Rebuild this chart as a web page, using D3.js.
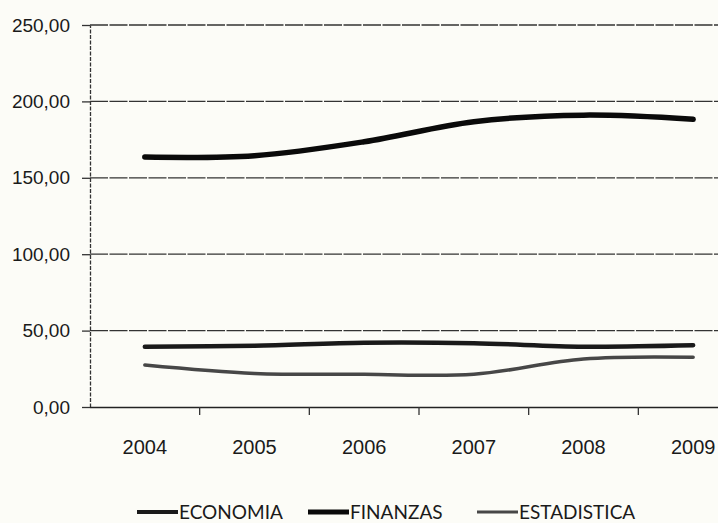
<!DOCTYPE html>
<html><head><meta charset="utf-8">
<script src="https://cdn.jsdelivr.net/npm/d3@7/dist/d3.min.js"></script>
<style>
html,body{margin:0;padding:0;background:#fcfcf7;}
svg{display:block;font-family:Lato,"Open Sans",sans-serif;}
</style></head>
<body><svg id="c" width="718" height="523"></svg>
<script>
const years = ["2004","2005","2006","2007","2008","2009"];
const economia = [39.5, 40.1, 42.0, 41.7, 39.5, 40.4];
const finanzas = [163.6, 164.5, 173.6, 186.7, 191.0, 188.3];
const estadistica = [27.5, 22.0, 21.4, 21.4, 31.4, 32.5];
const yTicks = [0, 50, 100, 150, 200, 250];
const seriesNames = ["ECONOMIA", "FINANZAS", "ESTADISTICA"];

const series = [
  {name: seriesNames[0], values: economia, color: "#1a1a1a", width: 4.5},
  {name: seriesNames[1], values: finanzas, color: "#0a0a0a", width: 5.5},
  {name: seriesNames[2], values: estadistica, color: "#474747", width: 3.5}
];

const svg = d3.select("#c");
const mL = 90, mR = 748, mT = 25, mB = 407;

const x = d3.scaleBand().domain(years).range([mL, mR]);
const y = d3.scaleLinear().domain([0, 250]).range([mB, mT]);

// gridlines
svg.append("g").selectAll("line").data(yTicks.filter(d => d > 0)).join("line")
  .attr("x1", mL).attr("x2", 718)
  .attr("y1", d => y(d)).attr("y2", d => y(d))
  .attr("stroke", "#333").attr("stroke-width", 1.3)
  .attr("stroke-dasharray", "18,1.5");

// y axis
const fmt = d => d3.format(".2f")(d).replace(".", ",");
const ya = svg.append("g").attr("transform", `translate(${mL},0)`)
  .call(d3.axisLeft(y).tickValues(yTicks).tickFormat(fmt).tickSize(8).tickPadding(12).tickSizeOuter(0));
ya.select(".domain").attr("stroke", "#333").attr("stroke-width", 1.3).attr("stroke-dasharray", "4,1.5");
ya.selectAll(".tick line").attr("stroke", "#333").attr("stroke-width", 1.3);
ya.selectAll("text").attr("font-size", 19).attr("fill", "#1a1a1a");

// x axis line + ticks at category boundaries
const xa = svg.append("g").attr("transform", `translate(0,${mB})`)
  .call(d3.axisBottom(x).tickSize(0).tickPadding(33).tickSizeOuter(0));
xa.select(".domain").attr("stroke", "#222").attr("stroke-width", 1.4).attr("d", `M${mL},0.5H718`);
xa.selectAll("text").attr("font-size", 20).attr("fill", "#1a1a1a");
svg.append("g").selectAll("line").data(years.slice(1)).join("line")
  .attr("x1", d => x(d)).attr("x2", d => x(d))
  .attr("y1", mB).attr("y2", mB + 8)
  .attr("stroke", "#333").attr("stroke-width", 1.3);

// lines
const line = d3.line()
  .x((d, i) => x(years[i]) + x.bandwidth() / 2)
  .y(d => y(d))
  .curve(d3.curveCatmullRom.alpha(0.5));
svg.append("g").selectAll("path").data(series).join("path")
  .attr("d", s => line(s.values))
  .attr("fill", "none")
  .attr("stroke", s => s.color)
  .attr("stroke-width", s => s.width)
  .attr("stroke-linecap", "round");

// legend
const legX = [137, 308, 477];
const lg = svg.append("g").selectAll("g").data(series).join("g")
  .attr("transform", (s, i) => `translate(${legX[i]},512)`);
lg.append("line").attr("x1", 0).attr("x2", 41).attr("y1", 0).attr("y2", 0)
  .attr("stroke", s => s.color).attr("stroke-width", s => s.width - 0.5);
lg.append("text").attr("x", 42).attr("y", 7).attr("font-size", 19).attr("fill", "#1a1a1a")
  .text(s => s.name);
</script>
</body></html>
